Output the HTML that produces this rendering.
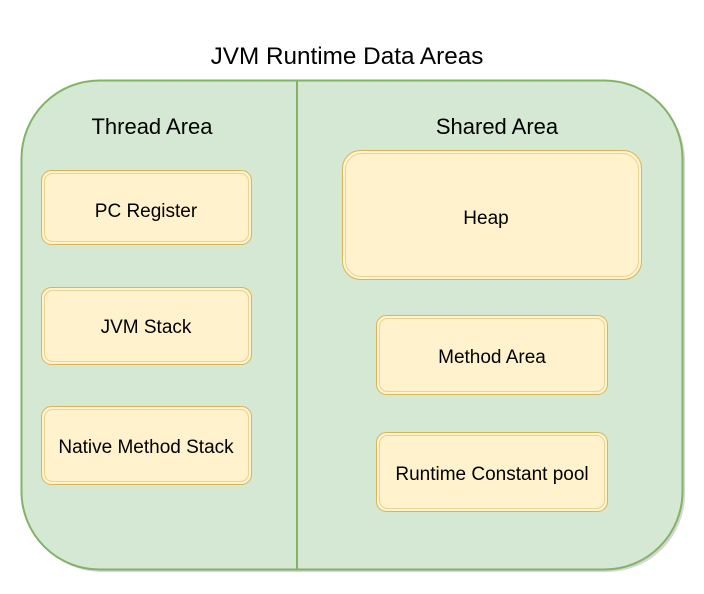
<!DOCTYPE html>
<html><head><meta charset="utf-8"><style>
html,body{margin:0;padding:0;background:#fff;width:704px;height:594px;overflow:hidden}
svg{display:block}
text{font-family:"Liberation Sans",Arial,sans-serif;fill:#000}
</style></head><body>
<svg width="704" height="594" viewBox="0 0 704 594" xmlns="http://www.w3.org/2000/svg">
<text x="347" y="64" font-size="24.3" text-anchor="middle">JVM Runtime Data Areas</text>
<rect x="24" y="83" width="661" height="489" rx="78" fill="#bbb" opacity="0.6"/>
<rect x="21.5" y="80.5" width="661" height="489" rx="78" fill="#d5e8d4" stroke="#82b366" stroke-width="2"/>
<line x1="297" y1="81" x2="297" y2="569" stroke="#82b366" stroke-width="2"/>
<text x="152" y="134" font-size="22" text-anchor="middle">Thread Area</text>
<text x="497" y="134" font-size="22" text-anchor="middle">Shared Area</text>
<g fill="#fff2cc" stroke="#d6b656" stroke-width="1">
<rect x="41.5" y="170.5" width="210" height="74" rx="10"/>
<rect x="41.5" y="287.5" width="210" height="77" rx="10"/>
<rect x="41.5" y="406.5" width="210" height="78" rx="10"/>
<rect x="342.5" y="150.5" width="299" height="129" rx="18"/>
<rect x="376.5" y="315.5" width="231" height="79" rx="10"/>
<rect x="376.5" y="432.5" width="231" height="79" rx="10"/>
</g>
<g fill="none" stroke="#d6b656" stroke-width="1" opacity="0.5">
<rect x="44.5" y="173.5" width="204" height="68" rx="8"/>
<rect x="44.5" y="290.5" width="204" height="71" rx="8"/>
<rect x="44.5" y="409.5" width="204" height="72" rx="8"/>
<rect x="345.5" y="153.5" width="293" height="123" rx="16"/>
<rect x="379.5" y="318.5" width="225" height="73" rx="8"/>
<rect x="379.5" y="435.5" width="225" height="73" rx="8"/>
</g>
<g font-size="19" text-anchor="middle">
<text x="146" y="217">PC Register</text>
<text x="146" y="333">JVM Stack</text>
<text x="146" y="453">Native Method Stack</text>
<text x="486" y="224">Heap</text>
<text x="492" y="363">Method Area</text>
<text x="492" y="480">Runtime Constant pool</text>
</g>
</svg>
</body></html>
